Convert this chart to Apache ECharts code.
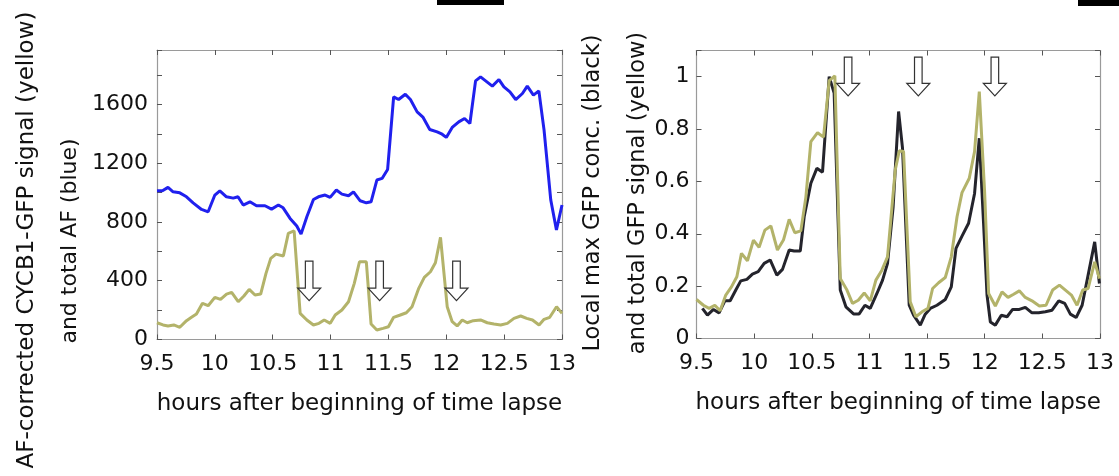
<!DOCTYPE html>
<html>
<head>
<meta charset="utf-8">
<script src="https://cdn.jsdelivr.net/npm/echarts@6/dist/echarts.min.js"></script>
<style>
  html, body { margin: 0; padding: 0; background: #fff; }
  #chart { width: 1119px; height: 476px; }
</style>
</head>
<body>
<div id="chart"></div>
<script>
// left panel: total AF (blue) and AF-corrected CYCB1-GFP (yellow)
const afHours = [9.5, 9.547, 9.595, 9.639, 9.697, 9.755, 9.812, 9.885, 9.942, 10.0, 10.043, 10.1, 10.159, 10.2, 10.245, 10.303, 10.36, 10.433, 10.49, 10.549, 10.59, 10.65, 10.708, 10.745, 10.795, 10.852, 10.895, 10.953, 10.996, 11.05, 11.098, 11.155, 11.198, 11.256, 11.309, 11.35, 11.4, 11.445, 11.493, 11.545, 11.588, 11.646, 11.69, 11.748, 11.8, 11.857, 11.921, 11.964, 12.0, 12.051, 12.108, 12.158, 12.204, 12.253, 12.296, 12.34, 12.398, 12.455, 12.498, 12.55, 12.6, 12.658, 12.7, 12.753, 12.8, 12.845, 12.903, 12.952, 13.0];
const afTotal = [1012, 1012, 1035, 1005, 998, 971, 930, 885, 869, 983, 1012, 971, 962, 971, 915, 937, 910, 910, 887, 915, 896, 824, 772, 717, 835, 953, 971, 983, 967, 1017, 989, 978, 1005, 944, 930, 937, 1085, 1096, 1157, 1651, 1633, 1669, 1633, 1549, 1511, 1429, 1413, 1397, 1375, 1443, 1481, 1504, 1470, 1760, 1787, 1760, 1724, 1769, 1719, 1685, 1633, 1674, 1724, 1663, 1692, 1425, 949, 745, 915];

const cycHours = [9.5, 9.552, 9.595, 9.645, 9.697, 9.755, 9.798, 9.841, 9.893, 9.942, 10.0, 10.049, 10.101, 10.145, 10.202, 10.251, 10.297, 10.347, 10.396, 10.442, 10.483, 10.528, 10.592, 10.635, 10.685, 10.737, 10.795, 10.852, 10.9, 10.945, 10.997, 11.04, 11.098, 11.155, 11.205, 11.25, 11.309, 11.35, 11.4, 11.453, 11.5, 11.545, 11.597, 11.655, 11.704, 11.762, 11.81, 11.863, 11.906, 11.95, 12.008, 12.051, 12.094, 12.138, 12.181, 12.233, 12.296, 12.354, 12.412, 12.47, 12.528, 12.585, 12.643, 12.695, 12.745, 12.802, 12.845, 12.894, 12.953, 13.0];
const cycSignal = [114, 99, 92, 99, 83, 128, 151, 173, 246, 230, 287, 273, 309, 321, 257, 296, 341, 303, 309, 450, 552, 581, 568, 722, 740, 178, 133, 99, 110, 133, 110, 167, 201, 257, 382, 529, 529, 105, 65, 76, 87, 151, 165, 182, 223, 348, 423, 461, 522, 695, 223, 121, 92, 133, 114, 128, 133, 114, 105, 99, 110, 144, 160, 144, 133, 99, 137, 151, 223, 178];

// right panel: local max GFP conc. (black) and total GFP signal (yellow)
const maxHours = [9.551, 9.595, 9.647, 9.696, 9.746, 9.792, 9.841, 9.884, 9.937, 9.985, 10.035, 10.087, 10.139, 10.197, 10.246, 10.304, 10.347, 10.4, 10.434, 10.492, 10.544, 10.593, 10.651, 10.694, 10.747, 10.796, 10.862, 10.911, 10.961, 11.007, 11.065, 11.114, 11.157, 11.205, 11.253, 11.287, 11.345, 11.383, 11.441, 11.484, 11.528, 11.586, 11.658, 11.71, 11.751, 11.803, 11.86, 11.912, 11.953, 11.99, 12.02, 12.049, 12.092, 12.144, 12.194, 12.242, 12.3, 12.352, 12.41, 12.468, 12.526, 12.584, 12.642, 12.694, 12.743, 12.793, 12.845, 12.897, 12.954, 12.995];
const localMax = [0.115, 0.089, 0.111, 0.098, 0.144, 0.144, 0.185, 0.22, 0.226, 0.246, 0.255, 0.287, 0.3, 0.242, 0.264, 0.338, 0.334, 0.334, 0.465, 0.593, 0.65, 0.635, 1.0, 0.937, 0.185, 0.121, 0.094, 0.094, 0.127, 0.115, 0.172, 0.223, 0.287, 0.5, 0.867, 0.727, 0.127, 0.089, 0.051, 0.093, 0.115, 0.127, 0.149, 0.197, 0.344, 0.391, 0.44, 0.554, 0.765, 0.44, 0.166, 0.063, 0.051, 0.089, 0.083, 0.111, 0.111, 0.119, 0.098, 0.098, 0.102, 0.108, 0.144, 0.134, 0.093, 0.08, 0.127, 0.242, 0.369, 0.21];

const gfpHours = [9.5, 9.56, 9.609, 9.659, 9.705, 9.754, 9.803, 9.85, 9.89, 9.942, 9.994, 10.043, 10.093, 10.145, 10.202, 10.254, 10.304, 10.353, 10.405, 10.449, 10.492, 10.55, 10.602, 10.651, 10.7, 10.747, 10.805, 10.853, 10.903, 10.955, 11.007, 11.056, 11.108, 11.157, 11.224, 11.259, 11.296, 11.354, 11.403, 11.456, 11.508, 11.548, 11.6, 11.658, 11.71, 11.76, 11.803, 11.866, 11.912, 11.953, 11.999, 12.034, 12.092, 12.15, 12.202, 12.251, 12.3, 12.352, 12.41, 12.474, 12.532, 12.589, 12.648, 12.7, 12.752, 12.801, 12.85, 12.897, 12.954, 12.995];
const gfpTotal = [0.149, 0.127, 0.115, 0.127, 0.106, 0.166, 0.197, 0.236, 0.325, 0.297, 0.376, 0.348, 0.414, 0.43, 0.338, 0.376, 0.455, 0.404, 0.411, 0.541, 0.752, 0.786, 0.769, 0.985, 1.003, 0.229, 0.185, 0.134, 0.146, 0.174, 0.144, 0.223, 0.261, 0.312, 0.644, 0.717, 0.714, 0.14, 0.083, 0.102, 0.115, 0.191, 0.213, 0.233, 0.312, 0.465, 0.557, 0.612, 0.714, 0.943, 0.561, 0.172, 0.124, 0.178, 0.157, 0.169, 0.182, 0.157, 0.144, 0.124, 0.127, 0.185, 0.204, 0.185, 0.166, 0.127, 0.185, 0.191, 0.293, 0.229];

// arrows (hollow, pointing down): x position, top and tip values
const arrowHours = [10.815, 11.424, 12.088];
const leftArrowTop = [534, 534, 534];
const leftArrowTip = [264, 264, 264];
const rightArrowTop = [1.075, 1.075, 1.075];
const rightArrowTip = [0.927, 0.927, 0.927];

const xTicks = [9.5, 10, 10.5, 11, 11.5, 12, 12.5, 13];

const FONT = 'DejaVu Sans';
const BLUE = '#2020ee';
const OLIVE = '#b3b36a';
const DARK = '#24242c';

function zip(xs, ys) {
  return xs.map((x, i) => [x, ys[i]]);
}

function arrowData(top, tip) {
  return arrowHours.map((h, i) => [h, top[i], tip[i]]);
}

// hollow down arrow drawn in pixel space from data coords
function renderArrow(params, api) {
  const top = api.coord([api.value(0), api.value(1)]);
  const tip = api.coord([api.value(0), api.value(2)]);
  const x = top[0];
  const sw = 3.8, hw = 11.5, hh = 12.5;
  const y0 = top[1], y2 = tip[1], y1 = y2 - hh;
  return {
    type: 'polygon',
    shape: {
      points: [[x - sw, y0], [x + sw, y0], [x + sw, y1], [x + hw, y1],
               [x, y2], [x - hw, y1], [x - sw, y1]]
    },
    style: { fill: '#fff', stroke: '#333', lineWidth: 1.2 },
    z2: 10
  };
}

function xAxisPair(grid) {
  const base = {
    type: 'value', gridIndex: grid, min: 9.5, max: 13, interval: 0.5,
    splitLine: { show: false },
    axisLine: { show: true, onZero: false, lineStyle: { color: '#9a9a9a', width: 1.2 } },
    axisTick: { show: true, inside: true, length: 5, lineStyle: { color: '#555' } }
  };
  return [
    Object.assign({}, base, {
      position: 'bottom',
      axisLabel: { show: true, margin: 14, color: '#111', fontSize: 22, fontFamily: FONT,
        formatter: v => xTicks.indexOf(v) >= 0 ? String(v) : '' },
      name: 'hours after beginning of time lapse',
      nameLocation: 'middle', nameGap: 53,
      nameTextStyle: { color: '#111', fontSize: 23, fontFamily: FONT }
    }),
    Object.assign({}, base, { position: 'top', axisLabel: { show: false } })
  ];
}

function yAxisPair(grid, max, interval, margin, fmt) {
  const base = {
    type: 'value', gridIndex: grid, min: 0, max: max, interval: interval,
    splitLine: { show: false },
    axisLine: { show: true, onZero: false, lineStyle: { color: '#9a9a9a', width: 1.2 } },
    axisTick: { show: true, inside: true, length: 5, lineStyle: { color: '#555' } }
  };
  return [
    Object.assign({}, base, {
      position: 'left',
      axisLabel: { show: true, margin: margin, color: '#111', fontSize: 22, fontFamily: FONT, formatter: fmt }
    }),
    Object.assign({}, base, { position: 'right', axisLabel: { show: false } })
  ];
}

const chart = echarts.init(document.getElementById('chart'), null, { renderer: 'canvas' });

const option = {
  backgroundColor: '#fff',
  animation: false,
  grid: [
    { left: 157, top: 50, width: 405, height: 289.5 },
    { left: 696.5, top: 50.5, width: 403.5, height: 288 }
  ],
  xAxis: xAxisPair(0).concat(xAxisPair(1)),
  yAxis: yAxisPair(0, 1970, 200, 9, v => (v % 400 === 0 && v <= 1600) ? String(v) : '')
    .concat(yAxisPair(1, 1.1, 0.2, 7, v => {
      const r = Math.round(v * 10) / 10;
      return (Math.abs(v - r) < 1e-6 && r <= 1 && Math.round(r * 10) % 2 === 0) ? String(r) : '';
    })),
  series: [
    {
      name: 'total AF', type: 'line', xAxisIndex: 0, yAxisIndex: 0,
      data: zip(afHours, afTotal), showSymbol: false,
      lineStyle: { color: BLUE, width: 3 }, z: 3
    },
    {
      name: 'AF-corrected CYCB1-GFP', type: 'line', xAxisIndex: 0, yAxisIndex: 0,
      data: zip(cycHours, cycSignal), showSymbol: false,
      lineStyle: { color: OLIVE, width: 3 }, z: 3
    },
    {
      name: 'local max GFP', type: 'line', xAxisIndex: 2, yAxisIndex: 2,
      data: zip(maxHours, localMax), showSymbol: false,
      lineStyle: { color: DARK, width: 3 }, z: 3
    },
    {
      name: 'total GFP', type: 'line', xAxisIndex: 2, yAxisIndex: 2,
      data: zip(gfpHours, gfpTotal), showSymbol: false,
      lineStyle: { color: OLIVE, width: 3 }, z: 4
    },
    {
      type: 'custom', xAxisIndex: 0, yAxisIndex: 0,
      data: arrowData(leftArrowTop, leftArrowTip),
      renderItem: renderArrow, clip: false, z: 6
    },
    {
      type: 'custom', xAxisIndex: 2, yAxisIndex: 2,
      data: arrowData(rightArrowTop, rightArrowTip),
      renderItem: renderArrow, clip: false, z: 6
    }
  ],
  graphic: [
    // y axis titles, two lines each
    { type: 'text', x: 27, y: 240, rotation: Math.PI / 2,
      style: { text: 'AF-corrected CYCB1-GFP signal (yellow)', fontSize: 23, fontFamily: FONT, fill: '#111', align: 'center', verticalAlign: 'middle' } },
    { type: 'text', x: 70, y: 241, rotation: Math.PI / 2,
      style: { text: 'and total AF (blue)', fontSize: 22, fontFamily: FONT, fill: '#111', align: 'center', verticalAlign: 'middle' } },
    { type: 'text', x: 593, y: 193, rotation: Math.PI / 2,
      style: { text: 'Local max GFP conc. (black)', fontSize: 22.5, fontFamily: FONT, fill: '#111', align: 'center', verticalAlign: 'middle' } },
    { type: 'text', x: 638, y: 193, rotation: Math.PI / 2,
      style: { text: 'and total GFP signal (yellow)', fontSize: 22.5, fontFamily: FONT, fill: '#111', align: 'center', verticalAlign: 'middle' } },
    // black bars at the top edge
    { type: 'rect', shape: { x: 437, y: 0, width: 67, height: 5 }, style: { fill: '#000' } },
    { type: 'rect', shape: { x: 1078, y: 0, width: 41, height: 6 }, style: { fill: '#000' } }
  ]
};

chart.setOption(option);
window.addEventListener('resize', () => chart.resize());
</script>
</body>
</html>
